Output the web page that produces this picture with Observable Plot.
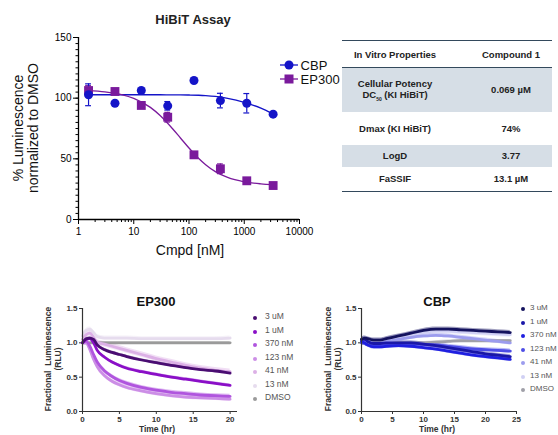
<!DOCTYPE html>
<html><head><meta charset="utf-8">
<script src="https://cdn.jsdelivr.net/npm/d3@7"></script>
<script src="https://cdn.jsdelivr.net/npm/@observablehq/plot@0.6"></script>
<style>
body{margin:0;background:#fff;font-family:Arial,"Liberation Sans",sans-serif;}
#root{position:relative;width:558px;height:435px;overflow:hidden;background:#fff}
.abs{position:absolute;white-space:nowrap;line-height:1.15}
.plot{position:absolute;overflow:visible}
table.props{position:absolute;left:342px;top:40px;width:210px;border-collapse:collapse;font-size:9.5px;font-weight:bold;color:#222;text-align:center}
table.props td{padding:0;vertical-align:middle}
table.props tr.shade td{background:#d6dee6}
table.props sub{font-size:5px}
</style></head><body><div id="root"></div>
<script>
// ---------------- DATA ----------------
// HiBiT dose response
const conc = [1.52, 4.57, 13.7, 41.2, 123, 370, 1111, 3333];
const cbpMean = [102.8, 95.8, 106.3, 93.7, 114.6, 98.0, 95.8, 86.8];
const cbpErr = [9, 0, 0, 3.5, 0, 6, 8, 1];
const ep300Mean = [106.3, 105.5, 94.0, 84.3, 53.3, 41.8, 31.9, 28.0];
const ep300Err = [4, 2, 2, 4, 2, 4, 2, 1];
const fitConc = [1.5, 3, 6, 10, 20, 30, 50, 70, 100, 150, 200, 300, 500, 1000, 2000, 3333];
const cbpFit = [102.8, 102.8, 102.8, 102.8, 102.8, 102.8, 102.7, 102.7, 102.6, 102.4, 102.1, 101.4, 99.8, 96.5, 91.8, 87.0];
const ep300Fit = [106.2, 105.2, 103.0, 99.9, 92.4, 85.7, 75.0, 67.2, 58.9, 50.3, 45.2, 39.5, 34.7, 31.1, 29.4, 28.7];
const xTicks = [1, 10, 100, 1000, 10000];
const yTicks = [0, 50, 100, 150];

// properties table
const tableHeader = ["In Vitro Properties", "Compound 1"];
const tableProps = ["Cellular Potency<br>DC<sub>50</sub> (KI HiBiT)", "Dmax (KI HiBiT)", "LogD", "FaSSIF"];
const tableValues = ["0.069 \u00b5M", "74%", "3.77", "13.1 \u00b5M"];

// time courses
const doseLabels = ["3 uM", "1 uM", "370 nM", "123 nM", "41 nM", "13 nM", "DMSO"];
const epTime = [0, 0.5, 1, 1.5, 2, 3, 4, 5, 6, 8, 10, 12, 14, 16, 18, 20];
const ep3uM   = [1.00, 1.06, 1.07, 1.05, 0.97, 0.90, 0.86, 0.83, 0.80, 0.75, 0.71, 0.67, 0.64, 0.61, 0.59, 0.56];
const ep1uM   = [1.00, 1.05, 1.06, 1.00, 0.89, 0.79, 0.72, 0.67, 0.63, 0.58, 0.54, 0.50, 0.47, 0.44, 0.41, 0.38];
const ep370nM = [1.00, 1.02, 0.95, 0.83, 0.72, 0.59, 0.51, 0.45, 0.41, 0.35, 0.31, 0.28, 0.26, 0.24, 0.23, 0.22];
const ep123nM = [1.00, 1.00, 0.90, 0.76, 0.65, 0.52, 0.44, 0.39, 0.35, 0.30, 0.26, 0.23, 0.21, 0.20, 0.19, 0.18];
const ep41nM  = [1.05, 1.12, 1.14, 1.08, 1.01, 0.98, 0.95, 0.92, 0.89, 0.83, 0.77, 0.72, 0.67, 0.63, 0.60, 0.58];
const ep13nM  = [1.10, 1.18, 1.20, 1.15, 1.09, 1.07, 1.07, 1.07, 1.07, 1.06, 1.06, 1.06, 1.06, 1.06, 1.06, 1.07];
const epDMSO  = [1.00, 1.00, 1.00, 1.00, 1.00, 1.00, 1.00, 1.00, 1.00, 1.00, 1.00, 1.00, 1.00, 1.00, 1.00, 1.00];
const epErr = [0.02, 0.02, 0.03, 0.03, 0.04, 0.03, 0.02];

const cbpTime = [0, 0.5, 1, 2, 3, 4, 6, 8, 10, 12, 14, 16, 18, 20, 22, 24];
const cb3uM   = [1.05, 1.07, 1.06, 1.04, 1.04, 1.06, 1.10, 1.14, 1.18, 1.20, 1.20, 1.19, 1.18, 1.17, 1.16, 1.15];
const cb1uM   = [1.05, 1.05, 1.02, 0.99, 0.99, 1.00, 1.00, 1.00, 0.98, 0.96, 0.93, 0.90, 0.87, 0.84, 0.82, 0.80];
const cb370nM = [1.02, 1.00, 0.97, 0.94, 0.94, 0.95, 0.96, 0.95, 0.93, 0.91, 0.88, 0.85, 0.82, 0.80, 0.78, 0.76];
const cb123nM = [1.00, 0.99, 0.97, 0.96, 0.96, 0.97, 0.98, 0.99, 0.98, 0.97, 0.95, 0.93, 0.91, 0.90, 0.89, 0.88];
const cb41nM  = [1.02, 1.03, 1.02, 1.00, 1.00, 1.02, 1.05, 1.08, 1.10, 1.11, 1.10, 1.08, 1.06, 1.04, 1.02, 1.00];
const cb13nM  = [1.05, 1.06, 1.05, 1.03, 1.03, 1.05, 1.08, 1.12, 1.15, 1.17, 1.17, 1.16, 1.15, 1.14, 1.13, 1.12];
const cbDMSO  = [1.00, 1.00, 1.00, 1.00, 1.00, 1.00, 1.00, 1.00, 1.00, 1.01, 1.02, 1.03, 1.03, 1.03, 1.03, 1.03];
const cbErr = [0.03, 0.03, 0.03, 0.03, 0.03, 0.04, 0.02];

const epColors = ["#4a0d72", "#8a0fc7", "#b055de", "#cc8ee6", "#dcb0e6", "#e6dcee", "#9a9a9a"];
const cbColors = ["#14125e", "#1a17a8", "#1f1fe0", "#4d4de6", "#9c9cee", "#d0d0f4", "#a0a0a8"];

// ---------------- HELPERS ----------------
const root = document.getElementById("root");
const FONT = "Arial, 'Liberation Sans', sans-serif";
function text(html, x, y, css = {}, rot = 0) {
  const d = document.createElement("div");
  d.className = "abs";
  d.style.left = x + "px"; d.style.top = y + "px";
  d.style.transform = `translate(-50%,-50%)` + (rot ? ` rotate(${rot}deg)` : "");
  Object.assign(d.style, css);
  d.innerHTML = html;
  root.appendChild(d);
  return d;
}
function place(svg, left, top) {
  svg.classList.add("plot");
  svg.style.left = left + "px"; svg.style.top = top + "px";
  root.appendChild(svg);
}

// ---------------- TOP: HiBiT ----------------
const CBP = "#1414c8", EP = "#7a1a9c";
const pts = (means, errs) => conc.map((c, i) => ({c, m: means[i], e: errs[i]}));
const cbpPts = pts(cbpMean, cbpErr), epPts = pts(ep300Mean, ep300Err);
const fitRows = (vals) => fitConc.map((c, i) => ({c, v: vals[i]}));
const minorX = [];
for (let k = 0; k < 4; k++) for (let j = 2; j <= 9; j++) minorX.push(j * 10 ** k);
const minorY = d3.range(0, 151, 5);

const errMarks = (data, color) => [
  Plot.ruleX(data.filter(d => d.e > 0), {x: "c", y1: d => d.m - d.e, y2: d => d.m + d.e, stroke: color, strokeWidth: 1.2}),
  Plot.ruleY(data.filter(d => d.e > 0), {y: d => d.m + d.e, x1: d => d.c / 1.13, x2: d => d.c * 1.13, stroke: color, strokeWidth: 1.2}),
  Plot.ruleY(data.filter(d => d.e > 0), {y: d => d.m - d.e, x1: d => d.c / 1.13, x2: d => d.c * 1.13, stroke: color, strokeWidth: 1.2})
];

const topPlot = Plot.plot({
  width: 330, height: 260,
  marginLeft: 78, marginRight: 31, marginTop: 37, marginBottom: 41,
  style: {fontFamily: FONT, fontSize: "10px", color: "#000", background: "transparent", overflow: "visible"},
  x: {type: "log", domain: [1, 10000]},
  y: {domain: [0, 150]},
  marks: [
    Plot.axisX({ticks: minorX, tickSize: 3, tickFormat: () => "", label: null}),
    Plot.axisX({ticks: xTicks, tickSize: 5, tickPadding: 3, tickFormat: d => String(d), label: null}),
    Plot.axisY({ticks: minorY, tickSize: 2.5, tickFormat: () => "", label: null}),
    Plot.axisY({ticks: yTicks, tickSize: 5, tickPadding: 2, label: null}),
    Plot.ruleX([1], {stroke: "#000", strokeWidth: 1.3}),
    Plot.ruleY([0], {stroke: "#000", strokeWidth: 1.3}),
    Plot.line(fitRows(cbpFit), {x: "c", y: "v", stroke: CBP, strokeWidth: 1.3, curve: "monotone-x"}),
    Plot.line(fitRows(ep300Fit), {x: "c", y: "v", stroke: EP, strokeWidth: 1.3, curve: "monotone-x"}),
    ...errMarks(epPts, EP),
    ...errMarks(cbpPts, CBP),
    Plot.dot(epPts, {x: "c", y: "m", symbol: "square", r: 5, fill: EP, stroke: "none"}),
    Plot.dot(cbpPts, {x: "c", y: "m", symbol: "circle", r: 4.5, fill: CBP, stroke: "none"})
  ]
});
place(topPlot, 0, 0);

text("HiBiT Assay", 193, 20, {fontWeight: "bold", fontSize: "13px", color: "#222"});
text("Cmpd [nM]", 190, 250, {fontSize: "14px", color: "#111"});
text("% Luminescence<br>normalized to DMSO", 26, 128, {fontSize: "14px", color: "#111", textAlign: "center", lineHeight: "15px"}, -90);

// legend (top)
function legendItem(label, color, shape, y) {
  const s = shape === "circle"
    ? `<circle cx="9" cy="6" r="4.5" fill="${color}"/>`
    : `<rect x="4.5" y="1.5" width="9" height="9" fill="${color}"/>`;
  const d = document.createElement("div");
  d.className = "abs";
  d.style.left = "280px"; d.style.top = (y - 7) + "px";
  d.style.fontSize = "13px"; d.style.color = "#111";
  d.innerHTML = `<svg width="18" height="12" style="vertical-align:-1px"><line x1="0" x2="18" y1="6" y2="6" stroke="${color}" stroke-width="1.3"/>${s}</svg>&thinsp;${label}`;
  root.appendChild(d);
}
legendItem("CBP", CBP, "circle", 66);
legendItem("EP300", EP, "square", 80);

// ---------------- TABLE ----------------
const tbl = document.createElement("table");
tbl.className = "props";
const rowHeights = [44, 33, 22, 25];
let html = `<tr style="height:27px;border-top:1.5px solid #33495c;border-bottom:1.5px solid #33495c"><td style="width:106px">${tableHeader[0]}</td><td style="padding-left:22px">${tableHeader[1]}</td></tr>`;
tableProps.forEach((p, i) => {
  html += `<tr class="${i % 2 === 0 ? "shade" : ""}" style="height:${rowHeights[i]}px${i === tableProps.length - 1 ? ";border-bottom:1.5px solid #33495c" : ""}"><td>${p}</td><td style="padding-left:22px">${tableValues[i]}</td></tr>`;
});
tbl.innerHTML = html;
root.appendChild(tbl);

// ---------------- BOTTOM: time courses ----------------
function tcRows(time, series, errs) {
  const rows = [];
  series.forEach((vals, si) => vals.forEach((v, i) => rows.push({s: doseLabels[si], t: time[i], v, e: errs[si], order: si})));
  return rows;
}
function timeCourse(time, series, errs, colors, xMax, xTickVals, mLeft, mRight) {
  const rows = tcRows(time, series, errs).sort((a, b) => b.order - a.order);
  return Plot.plot({
    width: 250, height: 135,
    marginLeft: mLeft, marginRight: mRight, marginTop: 8, marginBottom: 24,
    style: {fontFamily: FONT, fontSize: "8px", fontWeight: "bold", color: "#333", background: "transparent", overflow: "visible"},
    x: {domain: [0, xMax]},
    y: {domain: [0, 1.5]},
    color: {domain: doseLabels, range: colors},
    marks: [
      Plot.axisX({ticks: xTickVals, tickSize: 3, tickPadding: 2, label: null}),
      Plot.axisY({ticks: [0, 0.5, 1, 1.5], tickSize: 3, tickPadding: 2, tickFormat: d3.format(".1f"), label: null}),
      Plot.areaY(rows, {x: "t", y1: d => d.v - d.e, y2: d => d.v + d.e, z: "s", fill: "s", fillOpacity: 0.4, curve: "monotone-x"}),
      Plot.line(rows, {x: "t", y: "v", z: "s", stroke: "s", strokeWidth: 2.8, curve: "monotone-x"}),
      Plot.ruleX([0], {stroke: "#333", strokeWidth: 1.2}),
      Plot.ruleY([0], {stroke: "#333", strokeWidth: 1.2})
    ]
  });
}
const epPlot = timeCourse(epTime, [ep3uM, ep1uM, ep370nM, ep123nM, ep41nM, ep13nM, epDMSO], epErr, epColors, 21, [0, 5, 10, 15, 20], 82, 13);
place(epPlot, 0, 300);
const cbPlot = timeCourse(cbpTime, [cb3uM, cb1uM, cb370nM, cb123nM, cb41nM, cb13nM, cbDMSO], cbErr, cbColors, 25, [0, 5, 10, 15, 20, 25], 81, 14);
place(cbPlot, 280, 300);

text("EP300", 156, 302, {fontWeight: "bold", fontSize: "13px", color: "#111"});
text("CBP", 437, 302, {fontWeight: "bold", fontSize: "13px", color: "#111"});
const yLab = "Fractional&nbsp; Luminescence<br>(RLU)";
text(yLab, 53, 359, {fontWeight: "bold", fontSize: "8.5px", color: "#333", textAlign: "center", lineHeight: "10px"}, -90);
text(yLab, 333, 359, {fontWeight: "bold", fontSize: "8.5px", color: "#333", textAlign: "center", lineHeight: "10px"}, -90);
text("Time (hr)", 157, 430, {fontWeight: "bold", fontSize: "8.5px", color: "#333"});
text("Time (hr)", 437, 430, {fontWeight: "bold", fontSize: "8.5px", color: "#333"});

function tcLegend(colors, dotX, textX, y0, fs) {
  doseLabels.forEach((lab, i) => {
    const y = y0 + i * 13.5;
    const d = document.createElement("div");
    d.className = "abs";
    d.style.left = (dotX - 2) + "px"; d.style.top = (y - 2) + "px";
    d.style.width = "4px"; d.style.height = "4px"; d.style.borderRadius = "50%"; d.style.background = colors[i];
    root.appendChild(d);
    const t = document.createElement("div");
    t.className = "abs";
    t.style.left = textX + "px"; t.style.top = (y - 6) + "px";
    t.style.fontSize = fs + "px"; t.style.color = "#555";
    t.textContent = lab;
    root.appendChild(t);
  });
}
tcLegend(epColors, 255, 265, 318, 8.5);
tcLegend(cbColors, 523, 530, 309, 8);
</script></body></html>
